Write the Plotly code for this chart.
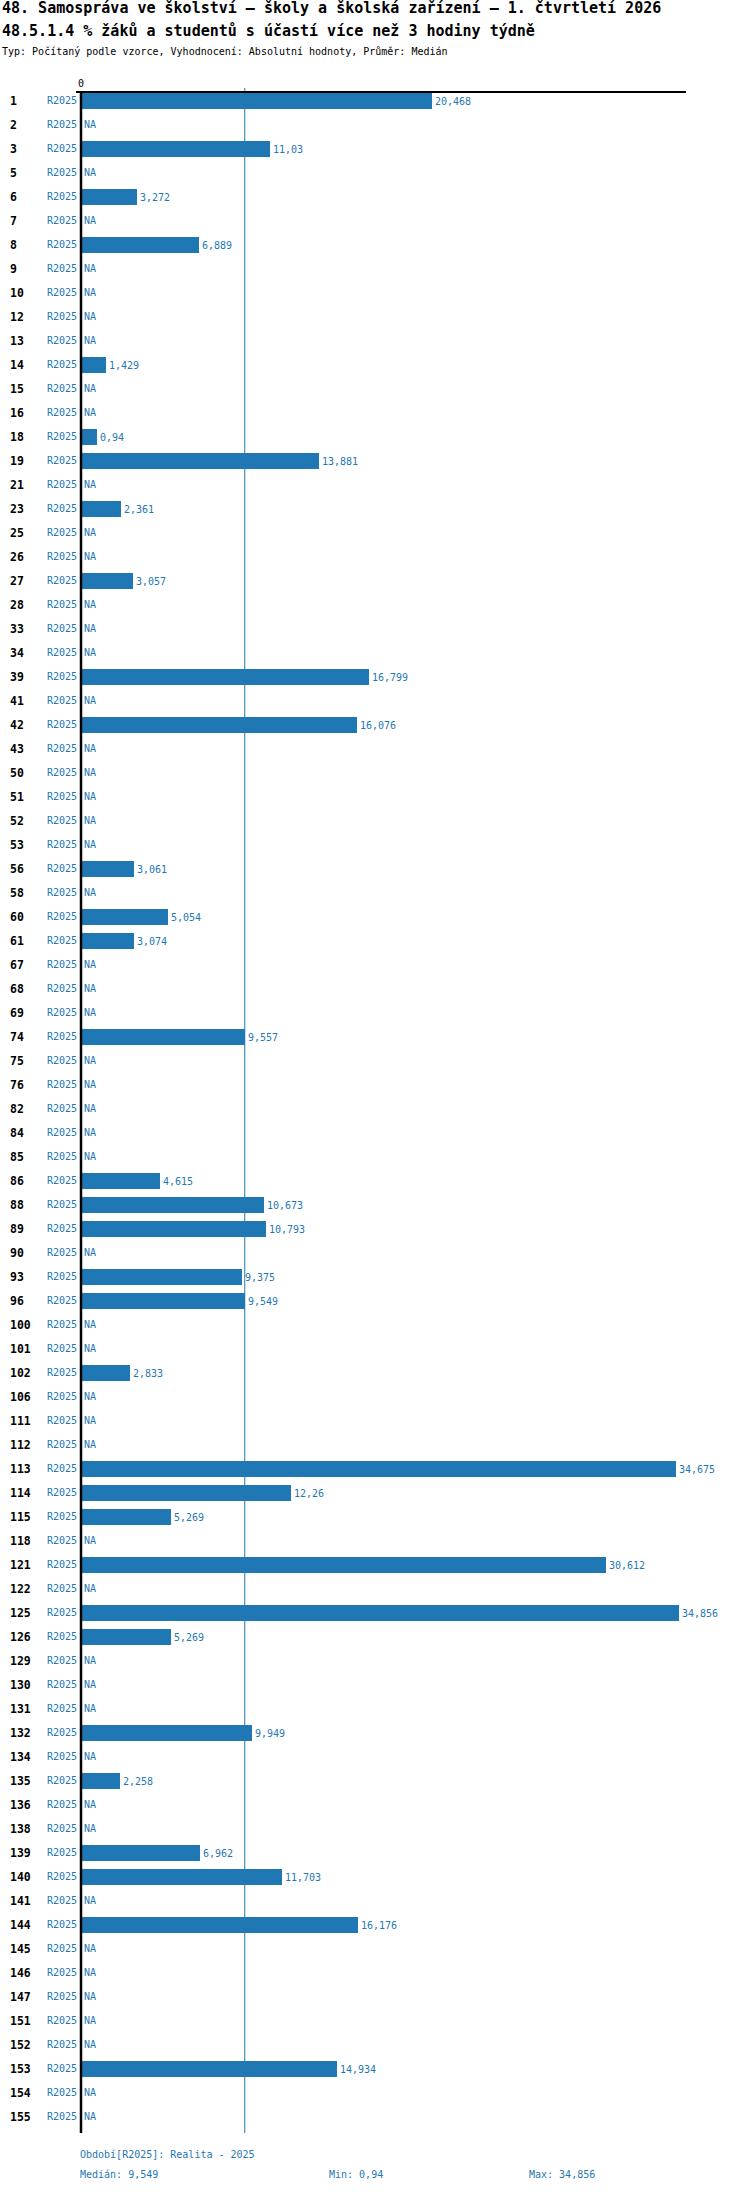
import plotly.graph_objects as go
import statistics

# Data
row_ids = [1, 2, 3, 5, 6, 7, 8, 9, 10, 12, 13, 14, 15, 16, 18, 19, 21, 23, 25, 26,
           27, 28, 33, 34, 39, 41, 42, 43, 50, 51, 52, 53, 56, 58, 60, 61, 67, 68, 69, 74,
           75, 76, 82, 84, 85, 86, 88, 89, 90, 93, 96, 100, 101, 102, 106, 111, 112, 113, 114, 115,
           118, 121, 122, 125, 126, 129, 130, 131, 132, 134, 135, 136, 138, 139, 140, 141, 144, 145, 146, 147,
           151, 152, 153, 154, 155]

values = [20.468, None, 11.03, None, 3.272, None, 6.889, None, None, None,
          None, 1.429, None, None, 0.94, 13.881, None, 2.361, None, None,
          3.057, None, None, None, 16.799, None, 16.076, None, None, None,
          None, None, 3.061, None, 5.054, 3.074, None, None, None, 9.557,
          None, None, None, None, None, 4.615, 10.673, 10.793, None, 9.375,
          9.549, None, None, 2.833, None, None, None, 34.675, 12.26, 5.269,
          None, 30.612, None, 34.856, 5.269, None, None, None, 9.949, None,
          2.258, None, None, 6.962, 11.703, None, 16.176, None, None, None,
          None, None, 14.934, None, None]

period = "R2025"
period_name = "Realita - 2025"

title1 = "48. Samospráva ve školství – školy a školská zařízení – 1. čtvrtletí 2026"
title2 = "48.5.1.4 % žáků a studentů s účastí více než 3 hodiny týdně"
subtitle = "Typ: Počítaný podle vzorce, Vyhodnocení: Absolutní hodnoty, Průměr: Medián"

BLUE = "#1f77b4"
MONO = "DejaVu Sans Mono"

W, H = 750, 2192
L, R, T, B = 76, 64, 93, 59
PW, PH = W - L - R, H - T - B


def fmt(v):
    return str(v).replace(".", ",")


def px_x(p):
    return (p - L) / PW


def px_y(p):
    return (H - B - p) / PH


present = [v for v in values if v is not None]
median_v = statistics.median(present)
min_v = min(present)
max_v = max(present)

pos = list(range(len(row_ids)))

fig = go.Figure()

fig.add_trace(go.Bar(
    x=values,
    y=pos,
    orientation="h",
    width=0.667,
    marker=dict(color=BLUE, line=dict(width=0)),
    text=[fmt(v) if v is not None else "" for v in values],
    textposition="outside",
    textfont=dict(family=MONO, size=10, color=BLUE),
    cliponaxis=False,
    constraintext="none",
    hoverinfo="skip",
))

annotations = []
for i, (rid, v) in enumerate(zip(row_ids, values)):
    annotations.append(dict(x=px_x(8), xref="paper", y=i, yref="y", text=f"<b>{rid}</b>",
                            showarrow=False, xanchor="left", yanchor="middle",
                            font=dict(family=MONO, size=11.5, color="black")))
    annotations.append(dict(x=0, xref="x", xshift=-2, y=i, yref="y", text=period,
                            showarrow=False, xanchor="right", yanchor="middle",
                            font=dict(family=MONO, size=10, color=BLUE)))
    if v is None:
        annotations.append(dict(x=0, xref="x", xshift=1, y=i, yref="y", text="NA",
                                showarrow=False, xanchor="left", yanchor="middle",
                                font=dict(family=MONO, size=10, color=BLUE)))

# header
annotations += [
    dict(x=px_x(0), y=px_y(8), xref="paper", yref="paper", text=f"<b>{title1}</b>",
         showarrow=False, xanchor="left", yanchor="middle",
         font=dict(family=MONO, size=15, color="black")),
    dict(x=px_x(0), y=px_y(31), xref="paper", yref="paper", text=f"<b>{title2}</b>",
         showarrow=False, xanchor="left", yanchor="middle",
         font=dict(family=MONO, size=15, color="black")),
    dict(x=px_x(0), y=px_y(51), xref="paper", yref="paper", text=subtitle,
         showarrow=False, xanchor="left", yanchor="middle",
         font=dict(family=MONO, size=10, color="black")),
]

# footer
foot_font = dict(family=MONO, size=10, color=BLUE)
annotations += [
    dict(x=px_x(78), y=px_y(2154), xref="paper", yref="paper",
         text=f"Období[{period}]: {period_name}", showarrow=False,
         xanchor="left", yanchor="middle", font=foot_font),
    dict(x=px_x(78), y=px_y(2174), xref="paper", yref="paper",
         text=f"Medián: {fmt(median_v)}", showarrow=False,
         xanchor="left", yanchor="middle", font=foot_font),
    dict(x=px_x(327), y=px_y(2174), xref="paper", yref="paper",
         text=f"Min: {fmt(min_v)}", showarrow=False,
         xanchor="left", yanchor="middle", font=foot_font),
    dict(x=px_x(527), y=px_y(2174), xref="paper", yref="paper",
         text=f"Max: {fmt(max_v)}", showarrow=False,
         xanchor="left", yanchor="middle", font=foot_font),
]

shapes = [
    # median line
    dict(type="line", xref="x", yref="paper", x0=median_v, x1=median_v,
         y0=0, y1=1 + 5 / PH, line=dict(color=BLUE, width=1), layer="below"),
    # zero line
    dict(type="line", xref="x", yref="paper", x0=0, x1=0, y0=0, y1=1,
         line=dict(color="black", width=2.5), layer="above"),
]

scale = 17.15  # px per unit
fig.update_layout(
    width=W, height=H,
    margin=dict(l=L, r=R, t=T, b=B, pad=0),
    paper_bgcolor="white", plot_bgcolor="white",
    showlegend=False,
    bargap=0,
    xaxis=dict(
        side="top",
        range=[-5 / scale, 605 / scale],
        showgrid=False, zeroline=False,
        showline=True, linecolor="black", linewidth=2,
        tickvals=[0], ticktext=["0"], ticks="",
        tickfont=dict(family=MONO, size=10, color="black"),
        fixedrange=True,
    ),
    yaxis=dict(
        range=[len(row_ids) - 1 + 0.667, -0.333],
        showgrid=False, zeroline=False, showline=False,
        showticklabels=False, ticks="",
        fixedrange=True,
    ),
    annotations=annotations,
    shapes=shapes,
)

fig.write_html("out.html", config={"displayModeBar": False},
               post_script="document.body.style.margin = '0';")
